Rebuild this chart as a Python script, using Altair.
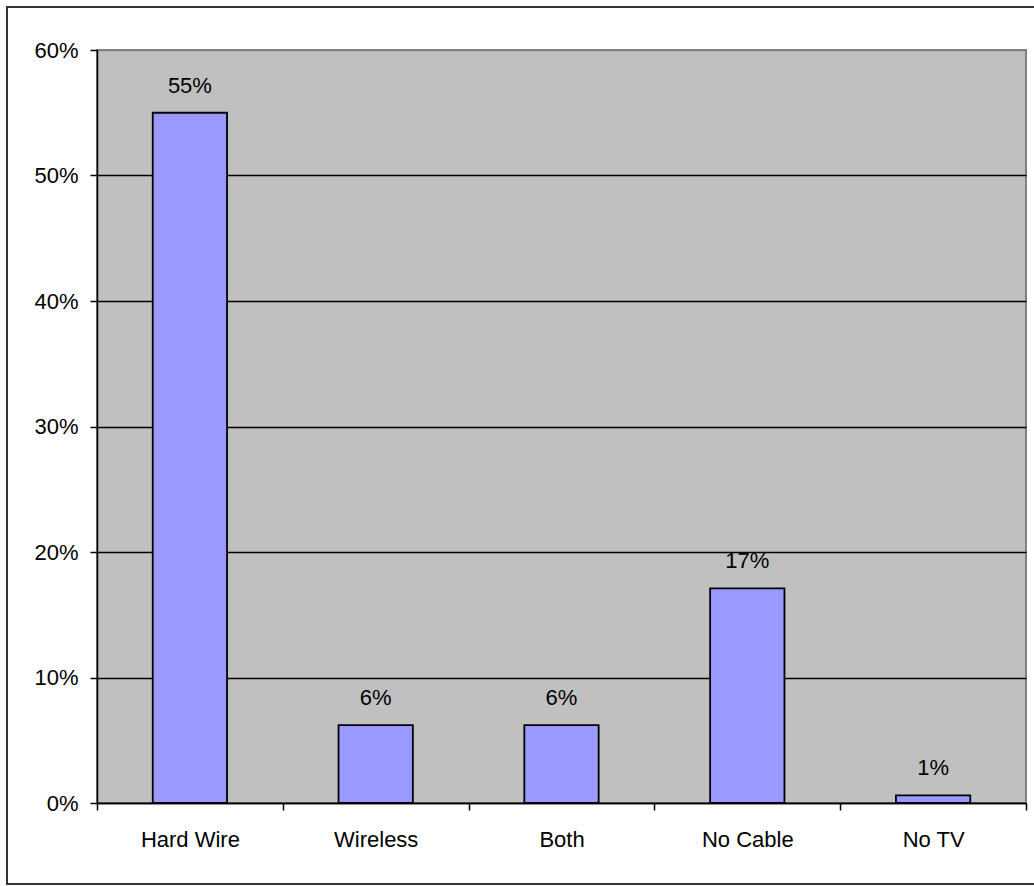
import altair as alt
import pandas as pd

# Survey: how respondents receive their TV service
categories = ["Hard Wire", "Wireless", "Both", "No Cable", "No TV"]
shares = [0.55, 0.062, 0.062, 0.171, 0.006]
y_ticks = [0, 0.1, 0.2, 0.3, 0.4, 0.5, 0.6]

FONT = "Liberation Sans"
df = pd.DataFrame({"category": categories, "share": shares})

x = alt.X(
    "category:N",
    sort=categories,
    title=None,
    scale=alt.Scale(paddingInner=0, paddingOuter=0),
    axis=alt.Axis(
        labelAngle=0,
        tickBand="extent",
        tickSize=7,
        tickColor="black",
        tickWidth=1.5,
        domainColor="black",
        domainWidth=1.5,
        labelPadding=19,
        labelFontSize=22,
        labelFont=FONT,
        labelColor="black",
        grid=False,
    ),
)
y = alt.Y(
    "share:Q",
    title=None,
    scale=alt.Scale(domain=[0, 0.6], nice=False),
    axis=alt.Axis(
        values=y_ticks,
        format=".0%",
        tickSize=7,
        tickColor="black",
        tickWidth=1.5,
        domainColor="black",
        domainWidth=1.5,
        labelPadding=12,
        labelFontSize=22,
        labelFont=FONT,
        labelColor="black",
        grid=True,
        gridColor=alt.condition("datum.value >= 0.59", alt.value("#808080"), alt.value("black")),
        gridWidth=1.5,
    ),
)

base = alt.Chart(df)

bars = base.mark_bar(
    color="#9999FF", stroke="black", strokeWidth=1.8, width=alt.RelativeBandSize(0.4)
).encode(x=x, y=y)

labels = base.mark_text(
    baseline="alphabetic", dy=-20, fontSize=22, font=FONT, color="black"
).encode(x=x, y=y, text=alt.Text("share:Q", format=".0%"))

# outer frame around the whole chart area
frame = alt.Chart(pd.DataFrame({"f": [0]})).mark_rect(
    fill=None, stroke="#333333", strokeWidth=2
).encode(
    x=alt.value(-90), x2=alt.value(945), y=alt.value(-43), y2=alt.value(834)
)

chart = (
    alt.layer(bars, labels, frame)
    .properties(
        width=929,
        height=753,
        autosize=alt.AutoSizeParams(type="none"),
        padding={"left": 97, "top": 50, "right": 8, "bottom": 83},
        background="white",
    )
    .configure_view(fill="#C0C0C0", stroke="#808080", strokeWidth=2)
)

chart.save("out.html", embed_options={"renderer": "svg", "actions": False})
